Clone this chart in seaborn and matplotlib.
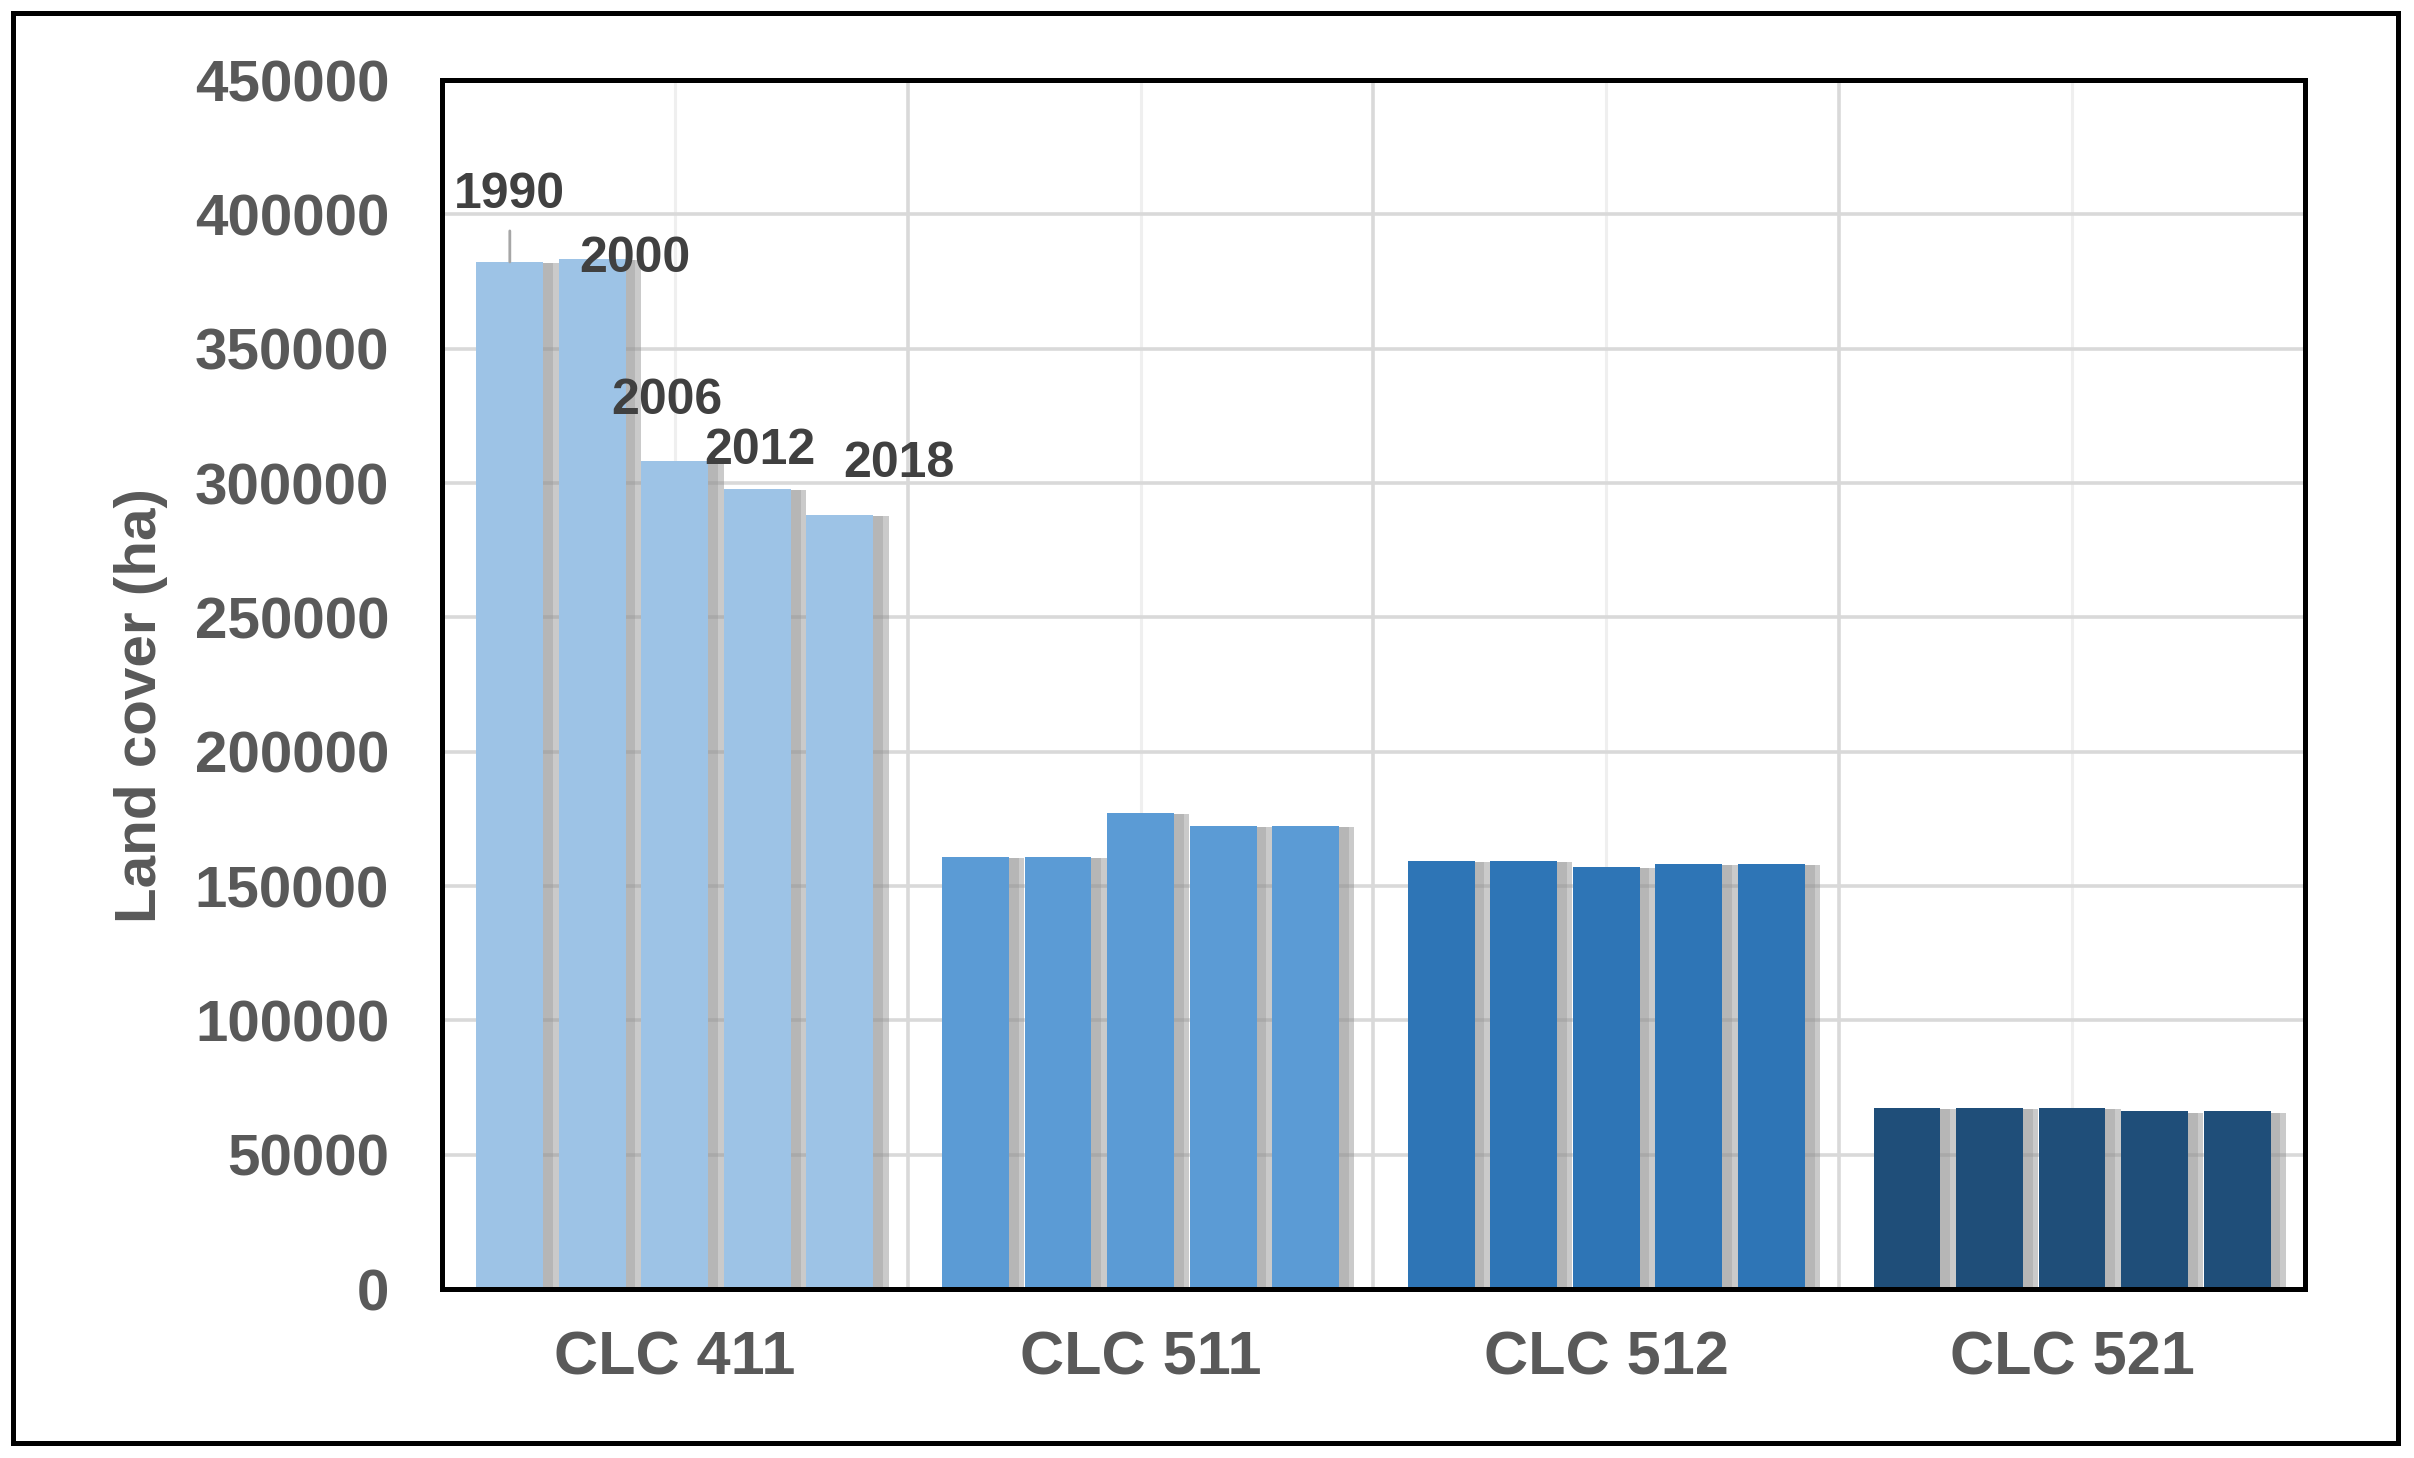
import pandas as pd
import seaborn as sns
import matplotlib.pyplot as plt
import matplotlib.patheffects as pe
from matplotlib.patches import Rectangle

# Datos (ha)
categorias = ['CLC 411', 'CLC 511', 'CLC 512', 'CLC 521']
anios = ['1990', '2000', '2006', '2012', '2018']
clc_411 = [382300, 383400, 308100, 297800, 288200]
clc_511 = [160800, 160800, 177200, 172400, 172400]
clc_512 = [159300, 159300, 157100, 158200, 158200]
clc_521 = [67500, 67500, 67500, 66100, 66100]
colores = ['#9DC3E6', '#5B9BD5', '#2E75B6', '#1F4E79']
ticks_y = [0, 50000, 100000, 150000, 200000, 250000, 300000, 350000, 400000, 450000]

# desplazamiento (px) de las etiquetas de año sobre las barras de CLC 411
offsets_etiquetas = [(0, 44), (42, 0), (-8, 60), (2, 38), (59, 51)]

filas = []
for cat, vals in zip(categorias, [clc_411, clc_511, clc_512, clc_521]):
    for anio, v in zip(anios, vals):
        filas.append({'Categoria': cat, 'Año': anio, 'Superficie': v})
df = pd.DataFrame(filas)

sns.set_theme(style="white")
plt.rcParams['font.family'] = ['Liberation Sans', 'DejaVu Sans']
plt.rcParams['font.weight'] = 'bold'

fig = plt.figure(figsize=(24.14, 14.58), dpi=100)
ax = fig.add_axes([0.1831, 0.1159, 0.9548 - 0.1831, 0.9451 - 0.1159])

sns.barplot(data=df, x='Categoria', y='Superficie', hue='Año', hue_order=anios,
            palette=['#999999'] * 5, width=0.886, gap=0.19, legend=False,
            saturation=1, ax=ax, zorder=3)

# color por categoría y sombra
sombra = [pe.SimplePatchShadow(offset=(7, -1), shadow_rgbFace='#9a9a9a', alpha=0.35),
          pe.SimplePatchShadow(offset=(11, -1), shadow_rgbFace='#8a8a8a', alpha=0.45),
          pe.Normal()]
for cont in ax.containers:
    for i, barra in enumerate(cont):
        barra.set_facecolor(colores[i])
        barra.set_edgecolor('none')
        barra.set_path_effects(sombra)

ax.set_ylim(0, 450000)
ax.set_xlim(-0.5, 3.5)
ax.set_yticks(ticks_y)
ax.set_yticklabels([str(t) for t in ticks_y])
ax.set_xticks([0.5, 1.5, 2.5], minor=True)

ax.set_axisbelow(True)
ax.grid(axis='y', which='major', color='#D9D9D9', linewidth=2.6, zorder=0)
ax.grid(axis='x', which='minor', color='#D9D9D9', linewidth=2.6, zorder=0)
ax.grid(axis='x', which='major', color='#EFEFEF', linewidth=2.2, zorder=0)

ax.tick_params(axis='y', length=0, pad=38, labelsize=42, labelcolor='#595959')
ax.tick_params(axis='x', which='both', length=0, pad=30, labelsize=44, labelcolor='#595959')
for lab in ax.get_xticklabels() + ax.get_yticklabels():
    lab.set_fontweight('bold')

ax.set_xlabel('')
ax.set_ylabel('Land cover (ha)', fontsize=42, fontweight='bold', color='#595959')
ax.yaxis.set_label_coords(-0.147, 0.483)

for s in ax.spines.values():
    s.set_visible(True)
    s.set_color('black')
    s.set_linewidth(3.6)
    s.set_zorder(5)

# etiquetas de año sobre la primera categoría
px = 72 / 100
for k, cont in enumerate(ax.containers):
    barra = cont[0]
    xc = barra.get_x() + barra.get_width() / 2
    yv = barra.get_height()
    dx, dy = offsets_etiquetas[k]
    if k == 0:
        ax.annotate(anios[k], xy=(xc, yv), xytext=(dx * px, dy * px),
                    textcoords='offset points', ha='center', va='bottom',
                    fontsize=36, fontweight='bold', color='#404040', zorder=6,
                    arrowprops=dict(arrowstyle='-', color='#A6A6A6', lw=2,
                                    shrinkA=7, shrinkB=0))
    else:
        ax.annotate(anios[k], xy=(xc, yv), xytext=(dx * px, dy * px),
                    textcoords='offset points', ha='center', va='center',
                    fontsize=36, fontweight='bold', color='#404040', zorder=6)

# marco exterior
fig.patches.append(Rectangle((13 / 2414, 1 - 1443 / 1458), (2398 - 13) / 2414,
                             (1443 - 13) / 1458, transform=fig.transFigure,
                             fill=False, edgecolor='black', linewidth=3.6))

fig.savefig('out.png', dpi=100, facecolor='white')
